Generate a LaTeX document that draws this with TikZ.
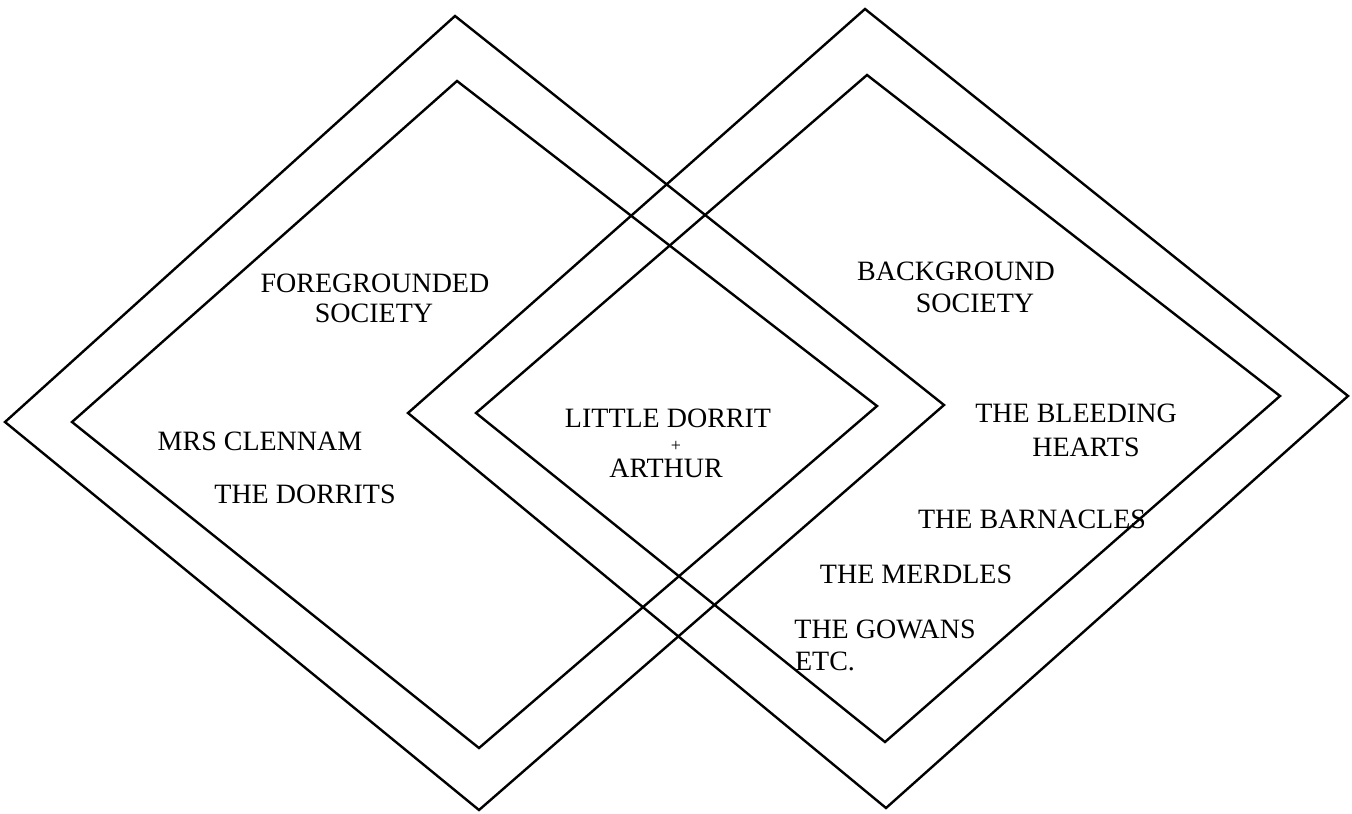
\documentclass[tikz,border=0pt]{standalone}
\usepackage{fontspec}
\setmainfont{Liberation Serif}

\begin{document}
\begin{tikzpicture}[
    x=0.5pt, y=-0.5pt,
    font=\fontsize{14}{15}\selectfont,
    frame/.style={draw, line width=1.2pt, line join=miter},
    lbl/.style={inner sep=0pt, anchor=base},
    plus/.style={lbl, font=\fontsize{9}{10}\selectfont},
  ]
  \useasboundingbox (0,0) rectangle (1352,813);

  % --- Foreground society (left) -----------------------------------------
  \draw[frame] (5,422) -- (455,16) -- (944,405) -- (479,810) -- cycle;
  \draw[frame] (72,422) -- (457,81) -- (877,406) -- (479,748) -- cycle;

  % --- Background society (right) ----------------------------------------
  \draw[frame] (408,413) -- (865,9) -- (1348,396) -- (886,808) -- cycle;
  \draw[frame] (476,413) -- (867,75) -- (1280,396) -- (885,742) -- cycle;

  % --- Labels, left ------------------------------------------------------
  \node[lbl] (fg1) at (375,292) {FOREGROUNDED};
  \node[lbl] (fg2) at (374,322) {SOCIETY};
  \node[lbl] (clennam) at (260,450) {MRS CLENNAM};
  \node[lbl] (dorrits) at (305,503) {THE DORRITS};

  % --- Labels, centre ----------------------------------------------------
  \node[lbl] (little) at (668,427) {LITTLE DORRIT};
  \node[plus] (and) at (676,451) {+};
  \node[lbl] (arthur) at (666,477) {ARTHUR};

  % --- Labels, right -----------------------------------------------------
  \node[lbl] (bg1) at (956,280) {BACKGROUND};
  \node[lbl] (bg2) at (975,312) {SOCIETY};
  \node[lbl] (bleed1) at (1076,422) {THE BLEEDING};
  \node[lbl] (bleed2) at (1086,456) {HEARTS};
  \node[lbl] (barnacles) at (1032,528) {THE BARNACLES};
  \node[lbl] (merdles) at (916,583) {THE MERDLES};
  \node[lbl] (gowans) at (885,638) {THE GOWANS};
  \node[lbl] (etc) at (825,670) {ETC.};

\end{tikzpicture}
\end{document}
